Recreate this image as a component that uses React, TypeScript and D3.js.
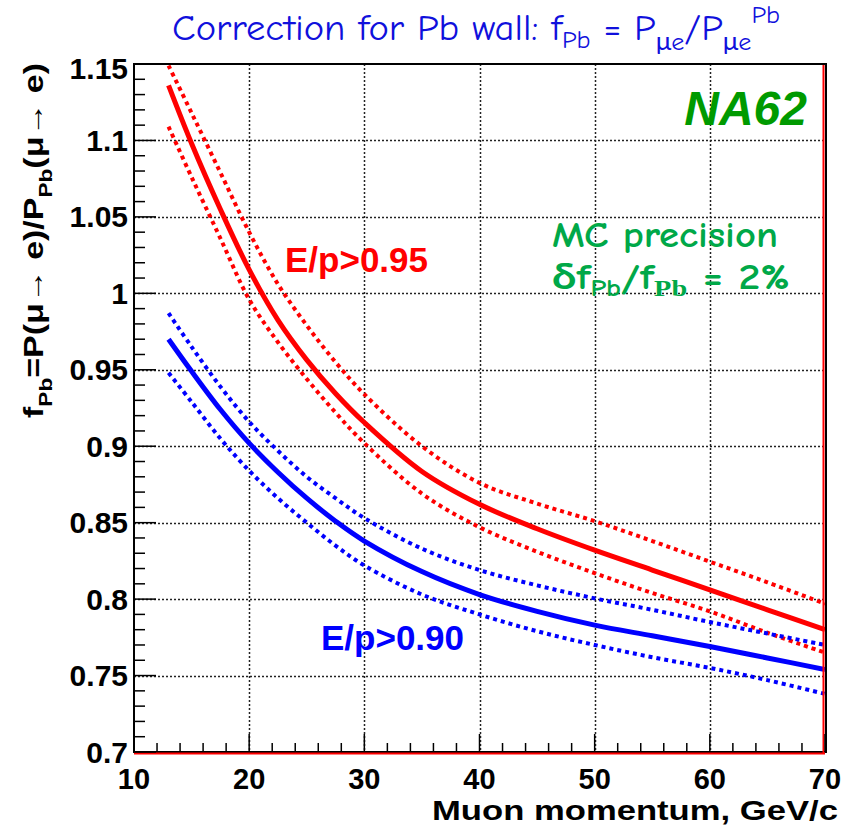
import React, { useRef, useEffect } from 'react';
import * as d3 from 'd3';

const momentum = [13, 15, 17.5, 20, 22.5, 25, 27.5, 30, 35, 40, 45, 50, 55, 60, 65, 70];

// E/p > 0.95 : central curve and band
const red95 = [1.136, 1.098, 1.055, 1.0155, 0.9825, 0.9565, 0.9345, 0.9155, 0.8835, 0.862, 0.846, 0.832, 0.819, 0.806, 0.793, 0.78];
const red95Up = [1.149, 1.118, 1.079, 1.04, 1.006, 0.979, 0.955, 0.934, 0.9, 0.876, 0.8625, 0.851, 0.838, 0.8245, 0.811, 0.797];
const red95Down = [1.109, 1.076, 1.036, 0.996, 0.968, 0.944, 0.922, 0.902, 0.869, 0.847, 0.831, 0.817, 0.804, 0.792, 0.778, 0.765];

// E/p > 0.90 : central curve and band
const blue90 = [0.97, 0.949, 0.924, 0.902, 0.883, 0.866, 0.851, 0.838, 0.818, 0.803, 0.792, 0.783, 0.776, 0.769, 0.7615, 0.754];
const blue90Up = [0.987, 0.965, 0.939, 0.916, 0.897, 0.88, 0.866, 0.853, 0.833, 0.819, 0.809, 0.8005, 0.793, 0.785, 0.7775, 0.77];
const blue90Down = [0.948, 0.929, 0.905, 0.884, 0.866, 0.85, 0.835, 0.822, 0.803, 0.79, 0.779, 0.77, 0.762, 0.755, 0.747, 0.738];

const xTicks = [10, 20, 30, 40, 50, 60, 70];
const yTicks = [0.7, 0.75, 0.8, 0.85, 0.9, 0.95, 1, 1.05, 1.1, 1.15];
const yTickLabels = ['0.7', '0.75', '0.8', '0.85', '0.9', '0.95', '1', '1.05', '1.1', '1.15'];

const App = () => {
  const svgRef = useRef<SVGSVGElement>(null);

  useEffect(() => {
    document.body.style.margin = '0';
    const width = 851;
    const height = 826;
    const frame = { left: 134, right: 825, top: 64, bottom: 752 };
    const axisFont = "'Liberation Sans', Arial, Helvetica, sans-serif";
    const comicFont = "'Comic Sans MS', 'Comic Neue', Lato, sans-serif";

    const svg = d3.select(svgRef.current);
    svg.selectAll('*').remove();
    svg.attr('width', width).attr('height', height)
      .style('display', 'block').style('background', '#fff');

    const x = d3.scaleLinear().domain([10, 70]).range([frame.left, frame.right]);
    const y = d3.scaleLinear().domain([0.7, 1.15]).range([frame.bottom, frame.top]);

    // dotted grid at the major ticks
    const grid = svg.append('g');
    xTicks.slice(1, -1).forEach(t => {
      grid.append('line')
        .attr('x1', Math.round(x(t)) + 0.5).attr('x2', Math.round(x(t)) + 0.5)
        .attr('y1', frame.top).attr('y2', frame.bottom)
        .attr('stroke', '#222').attr('stroke-width', 1.5).attr('stroke-dasharray', '2,2');
    });
    yTicks.slice(1, -1).forEach(t => {
      grid.append('line')
        .attr('x1', frame.left).attr('x2', frame.right)
        .attr('y1', Math.round(y(t)) + 0.5).attr('y2', Math.round(y(t)) + 0.5)
        .attr('stroke', '#222').attr('stroke-width', 1.5).attr('stroke-dasharray', '2,2');
    });

    // curves
    svg.append('clipPath').attr('id', 'plotClip').append('rect')
      .attr('x', frame.left).attr('y', frame.top)
      .attr('width', frame.right - frame.left).attr('height', frame.bottom - frame.top);
    const curves = svg.append('g').attr('clip-path', 'url(#plotClip)');

    const line = d3.line<number>()
      .x((d, i) => x(momentum[i]))
      .y(d => y(d))
      .curve(d3.curveCatmullRom.alpha(0.5));

    const series = [
      { values: red95Up, color: '#ff0000', dotted: true },
      { values: red95Down, color: '#ff0000', dotted: true },
      { values: blue90Up, color: '#0000ff', dotted: true },
      { values: blue90Down, color: '#0000ff', dotted: true },
      { values: red95, color: '#ff0000', dotted: false },
      { values: blue90, color: '#0000ff', dotted: false },
    ];
    series.forEach(s => {
      curves.append('path')
        .attr('d', line(s.values))
        .attr('fill', 'none')
        .attr('stroke', s.color)
        .attr('stroke-width', s.dotted ? 4 : 5)
        .attr('stroke-dasharray', s.dotted ? '4,4' : null);
    });

    // frame
    svg.append('rect')
      .attr('x', frame.left).attr('y', frame.top)
      .attr('width', frame.right - frame.left + 1).attr('height', frame.bottom - frame.top)
      .attr('fill', 'none').attr('stroke', '#000').attr('stroke-width', 2);
    svg.append('line').attr('x1', frame.right - 1.5).attr('x2', frame.right - 1.5)
      .attr('y1', frame.top + 1).attr('y2', frame.bottom + 2)
      .attr('stroke', '#ff0000').attr('stroke-width', 2);
    svg.append('line').attr('x1', frame.left).attr('x2', frame.right)
      .attr('y1', frame.bottom + 1.5).attr('y2', frame.bottom + 1.5)
      .attr('stroke', '#ff0000').attr('stroke-width', 2);

    // ticks
    const ticks = svg.append('g').attr('stroke', '#000');
    d3.range(10, 70.001, 2).forEach(t => {
      const major = Math.abs(t % 10) < 1e-6;
      ticks.append('line').attr('x1', x(t)).attr('x2', x(t))
        .attr('y1', frame.bottom).attr('y2', frame.bottom - (major ? 18 : 9))
        .attr('stroke-width', 1.5);
    });
    d3.range(0.7, 1.1501, 0.01).forEach(t => {
      const major = Math.abs(Math.round(t * 100) % 5) === 0;
      ticks.append('line').attr('x1', frame.left).attr('x2', frame.left + (major ? 22 : 11))
        .attr('y1', y(t)).attr('y2', y(t))
        .attr('stroke-width', 1.5);
    });

    // tick labels
    svg.append('g').selectAll('text').data(xTicks).join('text')
      .attr('x', d => x(d)).attr('y', 789)
      .attr('text-anchor', 'middle')
      .attr('font-family', axisFont).attr('font-weight', 'bold').attr('font-size', 29)
      .text(d => String(d));
    svg.append('g').selectAll('text').data(yTicks).join('text')
      .attr('x', 128).attr('y', (d, i) => y(d) + 10.5 + (i === yTicks.length - 1 ? 4 : 0))
      .attr('text-anchor', 'end')
      .attr('font-family', axisFont).attr('font-weight', 'bold').attr('font-size', 30)
      .text((d, i) => yTickLabels[i]);

    // axis titles
    svg.append('text')
      .attr('x', 838).attr('y', 820).attr('text-anchor', 'end')
      .attr('font-family', axisFont).attr('font-weight', 'bold').attr('font-size', 27)
      .attr('textLength', 406).attr('lengthAdjust', 'spacingAndGlyphs')
      .text('Muon momentum, GeV/c');

    const yTitle = svg.append('text')
      .attr('transform', 'translate(43,418) rotate(-90)')
      .attr('font-family', axisFont).attr('font-weight', 'bold').attr('font-size', 27)
      .attr('textLength', 355).attr('lengthAdjust', 'spacingAndGlyphs');
    yTitle.append('tspan').text('f');
    yTitle.append('tspan').attr('font-size', 18).attr('dy', 9).text('Pb');
    yTitle.append('tspan').attr('dy', -9).text('=P(\u03bc\u2192 e)/P');
    yTitle.append('tspan').attr('font-size', 18).attr('dy', 9).text('Pb');
    yTitle.append('tspan').attr('dy', -9).text('(\u03bc\u2192 e)');

    // title
    const title = svg.append('text')
      .attr('x', 172).attr('y', 40)
      .attr('font-family', comicFont).attr('font-size', 37).attr('fill', '#1010dc')
      .attr('textLength', 608).attr('lengthAdjust', 'spacingAndGlyphs');
    title.append('tspan').text('Correction for Pb wall: f');
    title.append('tspan').attr('font-size', 25).attr('dy', 8).text('Pb');
    title.append('tspan').attr('dy', -8).text(' = P');
    title.append('tspan').attr('font-size', 25).attr('dy', 10).text('\u03bce');
    title.append('tspan').attr('dy', -10).text('/P');
    title.append('tspan').attr('font-size', 25).attr('dy', 10).text('\u03bce');
    title.append('tspan').attr('font-size', 25).attr('dy', -27).text('Pb');

    // annotations
    svg.append('text')
      .attr('x', 807).attr('y', 125).attr('text-anchor', 'end')
      .attr('font-family', axisFont).attr('font-weight', 'bold').attr('font-style', 'italic')
      .attr('font-size', 48).attr('fill', '#009a00')
      .text('NA62');

    const green = '#00a848';
    svg.append('text')
      .attr('x', 552).attr('y', 247)
      .attr('font-family', comicFont).attr('font-weight', 'bold').attr('font-size', 37)
      .attr('fill', green).attr('textLength', 226).attr('lengthAdjust', 'spacingAndGlyphs')
      .text('MC precision');
    const prec = svg.append('text')
      .attr('x', 552).attr('y', 289)
      .attr('font-family', comicFont).attr('font-weight', 'bold').attr('font-size', 37)
      .attr('fill', green).attr('textLength', 238).attr('lengthAdjust', 'spacingAndGlyphs');
    prec.append('tspan').text('\u03b4f');
    prec.append('tspan').attr('font-size', 24).attr('dy', 7).text('Pb');
    prec.append('tspan').attr('dy', -7).text('/f');
    prec.append('tspan').attr('font-size', 24).attr('dy', 7)
      .attr('font-family', "'Liberation Serif', 'Times New Roman', serif").text('Pb');
    prec.append('tspan').attr('dy', -7).text(' = 2%');

    svg.append('text')
      .attr('x', 285).attr('y', 272)
      .attr('font-family', axisFont).attr('font-weight', 'bold').attr('font-size', 35)
      .attr('fill', '#ff0000')
      .text('E/p>0.95');
    svg.append('text')
      .attr('x', 321).attr('y', 650)
      .attr('font-family', axisFont).attr('font-weight', 'bold').attr('font-size', 35)
      .attr('fill', '#0000ff')
      .text('E/p>0.90');
  }, []);

  return <svg ref={svgRef}></svg>;
};

export default App;
